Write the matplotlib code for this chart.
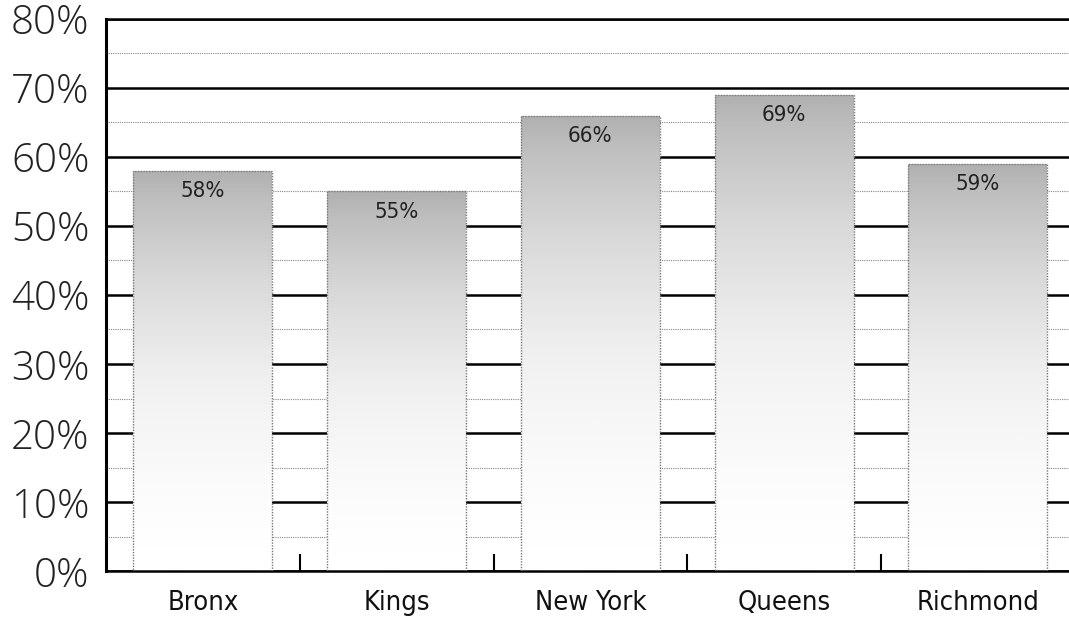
import numpy as np
import matplotlib.pyplot as plt
from matplotlib.ticker import MultipleLocator, FuncFormatter

# data
boroughs = ['Bronx', 'Kings', 'New York', 'Queens', 'Richmond']
share = [58, 55, 66, 69, 59]

fig = plt.figure(figsize=(10.69, 6.24), dpi=100)
ax = fig.add_axes([0.0992, 0.0849, 0.9008, 0.8847])

x = np.arange(len(boroughs))

# grid: heavy lines every 10%, light ones every 5%
ax.yaxis.set_major_locator(MultipleLocator(10))
ax.yaxis.set_minor_locator(MultipleLocator(5))
ax.grid(axis='y', which='major', color='black', lw=1.8, zorder=0)
ax.grid(axis='y', which='minor', color='#888888', lw=0.8, ls=(0, (1, 1)), zorder=0)

# bars with a grey -> white fade, top to bottom
grad = np.linspace(0, 1, 256).reshape(-1, 1)
bars = ax.bar(x, share, width=0.717, facecolor='none', edgecolor='#777777',
              lw=1.0, ls=(0, (1, 1)), zorder=3)
for b, v in zip(bars, share):
    bx = b.get_x()
    # solid white first so the gridlines are hidden behind the bar
    ax.bar(b.get_x() + b.get_width() / 2, v, width=b.get_width(),
           color='white', lw=0, zorder=1)
    im = ax.imshow(grad ** 1.6, cmap='Greys', vmin=0, vmax=2.4,
                   extent=(bx, bx + b.get_width(), 0, v), origin='lower',
                   aspect='auto', zorder=2, interpolation='bilinear')
    im.set_clip_path(b)
    ax.text(b.get_x() + b.get_width() / 2, v - 1.5, f'{v}%', ha='center',
            va='top', fontsize=16, color='#222222',
            family='DejaVu Sans', stretch='condensed', zorder=4)
ax.set_xlim(-0.5, 4.47)
ax.set_ylim(0, 80)

# x ticks sit on the category boundaries, labels centred under bars
ax.set_xticks(x[:-1] + 0.5)
ax.set_xticklabels([])
ax.set_xticks(x, minor=True)
ax.set_xticklabels(boroughs, minor=True, fontsize=19.5,
                   family='DejaVu Sans', stretch='condensed', color='#111111')
ax.tick_params(axis='x', which='major', direction='in', length=12, width=1.5)
ax.tick_params(axis='x', which='minor', length=0, pad=14)

ax.yaxis.set_major_formatter(FuncFormatter(lambda v, p: f'{v:.0f}%'))
ax.tick_params(axis='y', which='both', length=0, pad=12, labelsize=29)
for lab in ax.get_yticklabels():
    lab.set_family('Open Sans')
    lab.set_fontweight('light')
    lab.set_color('#222222')

ax.spines['right'].set_visible(False)
ax.spines['left'].set_linewidth(2.2)
ax.spines['bottom'].set_linewidth(1.8)
ax.spines['top'].set_linewidth(1.8)

fig.savefig('out.png', dpi=100)
